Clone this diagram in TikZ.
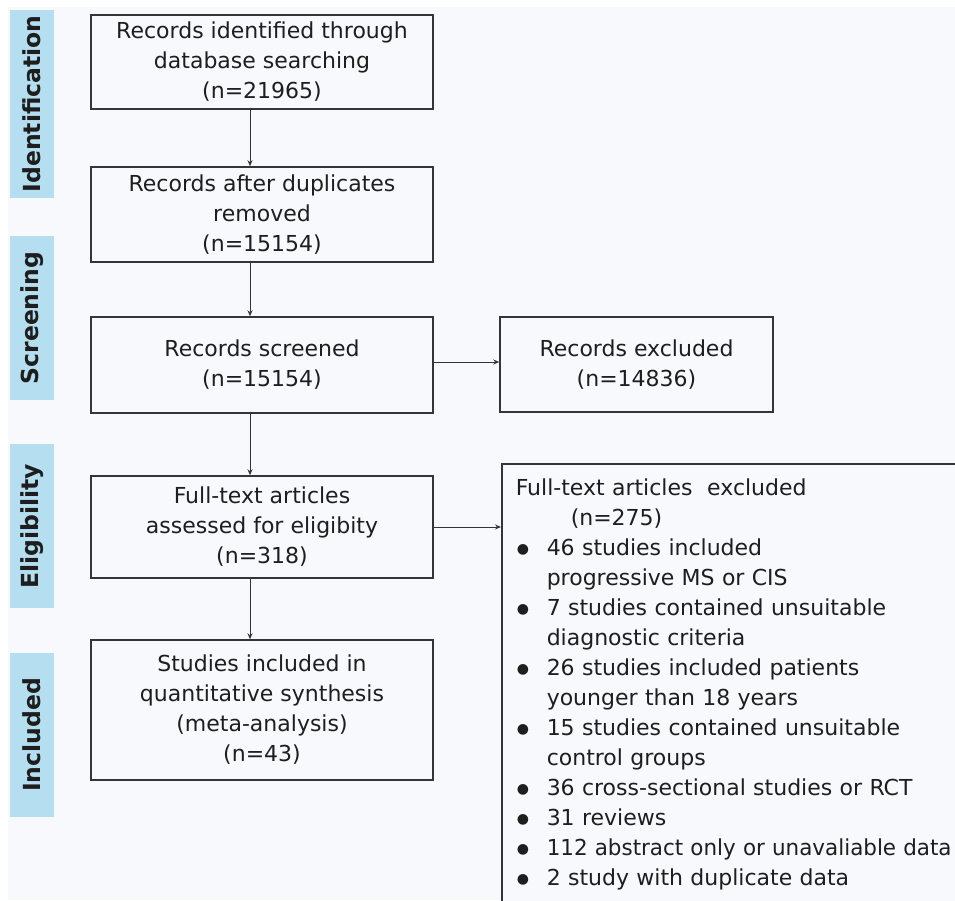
\documentclass[tikz,border=0pt]{standalone}
\usepackage{graphicx}
\usepackage{fontspec}
\setmainfont{DejaVu Sans}
\usetikzlibrary{arrows.meta,calc}
\definecolor{txt}{HTML}{1E1E1E}
\definecolor{edge}{HTML}{353535}
\definecolor{lab}{HTML}{B5DFF1}
\definecolor{bg}{HTML}{F8F9FC}
\newcommand\blt{\makebox[31pt][l]{\hspace*{1pt}\raisebox{1.5pt}{\fontsize{14}{14}\selectfont ●}}}
\begin{document}
\begin{tikzpicture}[x=1pt,y=-1pt,
  every node/.style={text=txt, font=\fontsize{22}{30}\selectfont},
  flowbox/.style={draw=edge, line width=1.5pt, fill=bg, align=center, inner sep=0pt},
  phase/.style={fill=lab, rotate=90, minimum height=44pt, inner sep=0pt, font=\bfseries\fontsize{23.5}{26}\selectfont},
  arr/.style={draw=edge, line width=0.9pt, -{Stealth[length=6pt,width=5pt]}}]
\useasboundingbox (0,0) rectangle (955,900);
\clip (0,0) rectangle (955,900);
\fill[white] (0,0) rectangle (955,900);
\fill[bg] (8,7) rectangle (955,900);

% phase labels
\node[phase, minimum width=188pt] (pid) at (32,104) {Identification};
\node[phase, minimum width=164pt] (psc) at (32,318) {Screening};
\node[phase, minimum width=164pt] (pel) at (32,526) {Eligibility};
\node[phase, minimum width=164pt] (pin) at (32,735) {Included};

% main boxes
\node[flowbox, minimum width=342pt, minimum height=94pt] (b1) at (262,62)
  {Records identified through\\database searching\\(n=21965)};
\node[flowbox, minimum width=342pt, minimum height=95pt] (b2) at (262,214.5)
  {Records after duplicates\\removed\\(n=15154)};
\node[flowbox, minimum width=342pt, minimum height=96pt] (b3) at (262,365)
  {Records screened\\(n=15154)};
\node[flowbox, minimum width=342pt, minimum height=102pt] (b4) at (262,527)
  {Full-text articles\\assessed for eligibity\\(n=318)};
\node[flowbox, minimum width=342pt, minimum height=140pt] (b5) at (262,710)
  {Studies included in\\quantitative synthesis\\(meta-analysis)\\(n=43)};

% exclusion boxes
\node[flowbox, minimum width=273pt, minimum height=95pt] (ex1) at (636.5,364.5)
  {Records excluded\\(n=14836)};
\node[draw=edge, line width=1.5pt, fill=bg, anchor=north west, align=left,
      text width=520pt, inner xsep=14pt, inner ysep=15pt] (ex2) at (501,463)
  {Full-text articles\ \ excluded\\
   \hspace*{55pt}(n=275)\\
   \blt 46 studies included\\
   \hspace*{31pt}progressive MS or CIS\\
   \blt 7 studies contained unsuitable\\
   \hspace*{31pt}diagnostic criteria\\
   \blt 26 studies included patients\\
   \hspace*{31pt}younger than 18 years\\
   \blt 15 studies contained unsuitable\\
   \hspace*{31pt}control groups\\
   \blt 36 cross-sectional studies or RCT\\
   \blt 31 reviews\\
   \blt \scalebox{0.975}[1]{112 abstract only or unavaliable data}\\
   \blt 2 study with duplicate data\rule[-25pt]{0pt}{0pt}};

% connectors
\coordinate (ax) at (250,0);
\draw[arr] (b1.south -| ax) -- (b2.north -| ax);
\draw[arr] (b2.south -| ax) -- (b3.north -| ax);
\draw[arr] (b3.south -| ax) -- (b4.north -| ax);
\draw[arr] (b4.south -| ax) -- (b5.north -| ax);
\draw[arr] ([yshift=3pt]b3.east) -- ([yshift=3pt]b3.east -| ex1.west);
\draw[arr] (b4.east) -- (b4.east -| ex2.west);
\end{tikzpicture}
\end{document}
